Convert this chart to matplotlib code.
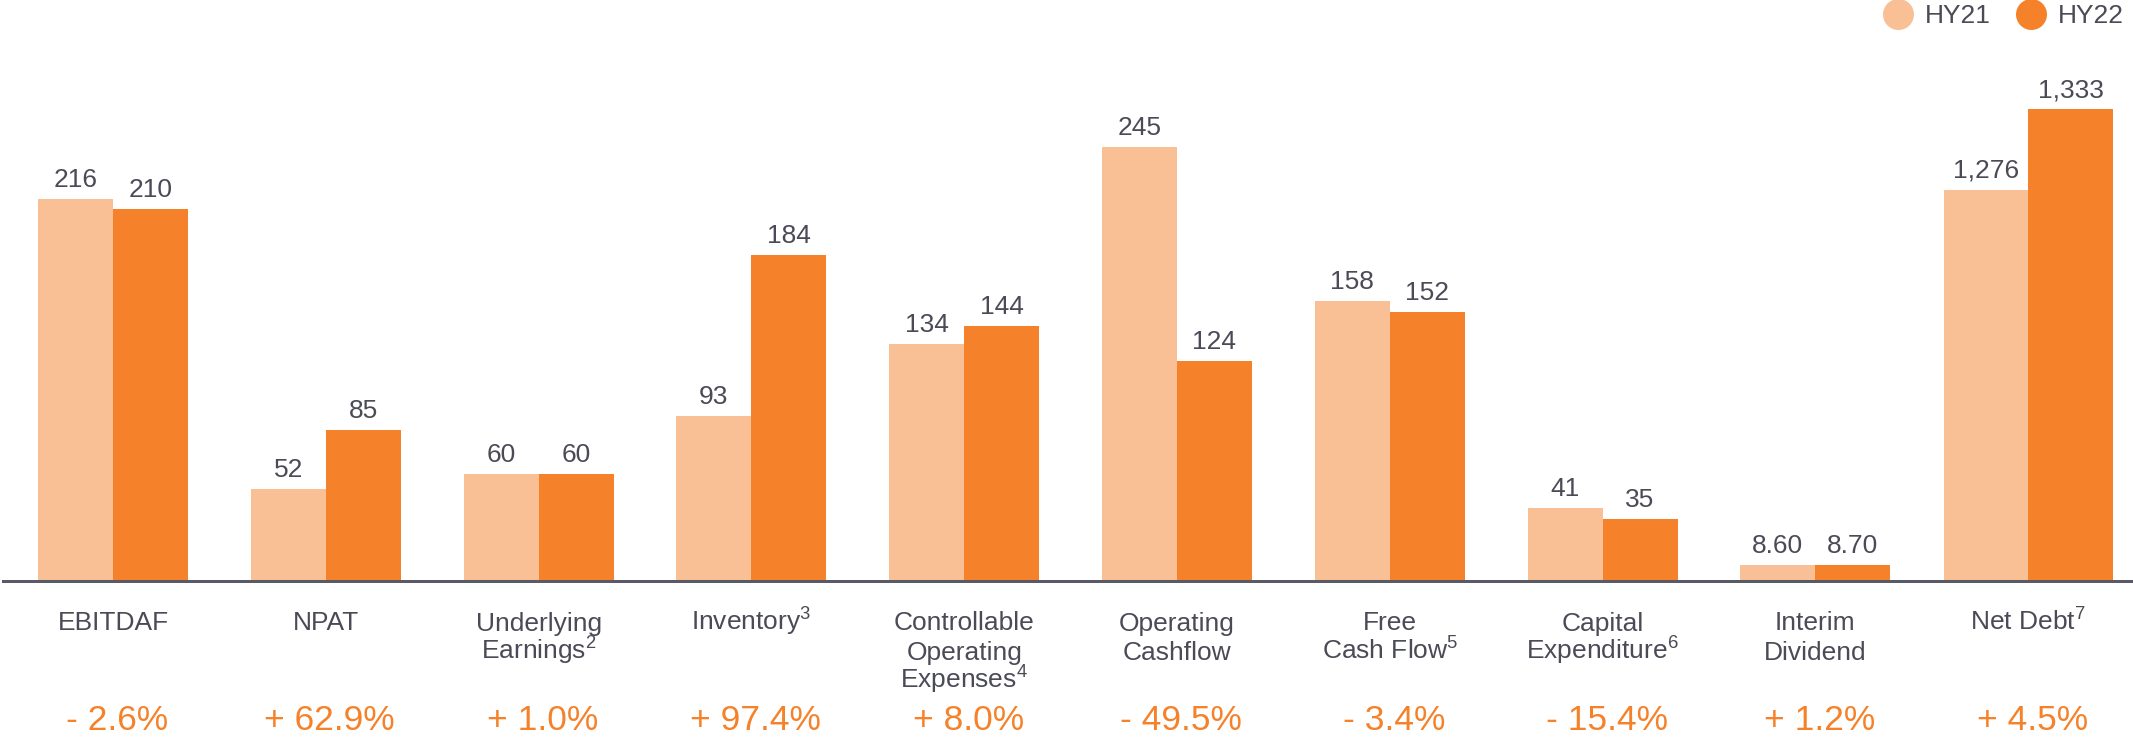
import matplotlib
matplotlib.use("Agg")
import matplotlib.pyplot as plt
from matplotlib.lines import Line2D
from matplotlib import font_manager

# ---------------- data ----------------
categories = [
    ["EBITDAF"],
    ["NPAT"],
    ["Underlying", "Earnings$^{2}$"],
    ["Inventory$^{3}$"],
    ["Controllable", "Operating", "Expenses$^{4}$"],
    ["Operating", "Cashflow"],
    ["Free", "Cash Flow$^{5}$"],
    ["Capital", "Expenditure$^{6}$"],
    ["Interim", "Dividend"],
    ["Net Debt$^{7}$"],
]
hy21_values = [216, 52, 60, 93, 134, 245, 158, 41, 8.60, 1276]
hy22_values = [210, 85, 60, 184, 144, 124, 152, 35, 8.70, 1333]
# drawn bar heights (chart units); Net Debt is drawn on a compressed scale
hy21_heights = [216, 52, 60, 93, 134, 245, 158, 41, 8.60, 221]
hy22_heights = [210, 85, 60, 184, 144, 124, 152, 35, 8.70, 266.5]
changes = ["- 2.6%", "+ 62.9%", "+ 1.0%", "+ 97.4%", "+ 8.0%",
           "- 49.5%", "- 3.4%", "- 15.4%", "+ 1.2%", "+ 4.5%"]
series_names = ["HY21", "HY22"]

# ---------------- style ----------------
LIGHT = "#F9BF95"
DARK = "#F5822A"
TEXT = "#4B4B58"
AXIS = "#5A5A66"

avail = {f.name for f in font_manager.fontManager.ttflist}
base_font = "Liberation Sans" if "Liberation Sans" in avail else "DejaVu Sans"

plt.rcParams["font.family"] = [base_font, "DejaVu Sans"]
plt.rcParams["mathtext.fontset"] = "custom"
plt.rcParams["mathtext.rm"] = base_font
plt.rcParams["mathtext.it"] = base_font
plt.rcParams["mathtext.bf"] = base_font

W, H, DPI = 2133, 738, 100
fig = plt.figure(figsize=(W / DPI, H / DPI), dpi=DPI)
ax = fig.add_axes([0, 0, 1, 1])

PX_PER_UNIT = 1.768
BASE_PX = 580.5          # baseline from top, px
X0_PX = 113.0            # first group center, px
STEP_PX = 212.8          # group spacing, px

ax.set_ylim(-(H - BASE_PX) / PX_PER_UNIT, BASE_PX / PX_PER_UNIT)
ax.set_xlim(-X0_PX / STEP_PX, (W - X0_PX) / STEP_PX)
ax.axis("off")

n = len(categories)
widths = [75 / STEP_PX] * (n - 1) + [84.5 / STEP_PX]
xs = list(range(n))

def fmt(v):
    return f"{v:.2f}" if v < 10 else f"{v:,.0f}"

pt = 72.0 / DPI  # points per pixel
FS = 19

for i in xs:
    w = widths[i]
    ax.bar(i - w / 2, hy21_heights[i], width=w, color=LIGHT, linewidth=0, zorder=2)
    ax.bar(i + w / 2, hy22_heights[i], width=w, color=DARK, linewidth=0, zorder=2)
    for xc, h, v in ((i - w / 2, hy21_heights[i], hy21_values[i]),
                     (i + w / 2, hy22_heights[i], hy22_values[i])):
        ax.annotate(fmt(v), xy=(xc, h), xytext=(0, 12 * pt), textcoords="offset points",
                    ha="center", va="baseline", fontsize=FS, color=TEXT)
    # category label lines
    for k, line in enumerate(categories[i]):
        ax.annotate(line, xy=(i, 0), xytext=(0, -(50 + 29.3 * k) * pt),
                    textcoords="offset points", ha="center", va="baseline",
                    fontsize=FS, color=TEXT)
    # change
    ax.annotate(changes[i], xy=(i, 0), xytext=(4 * pt, -150 * pt),
                textcoords="offset points", ha="center", va="baseline",
                fontsize=25.5, color=DARK)

# baseline axis line
ax.axhline(0, xmin=3 / W, xmax=1, color=AXIS, linewidth=3 * pt, zorder=3)

# legend
handles = [Line2D([], [], linestyle="none", marker="o", markersize=31 * pt,
                  markerfacecolor=c, markeredgewidth=0) for c in (LIGHT, DARK)]
fs_px = FS / pt
leg = ax.legend(handles, series_names, loc="upper right", ncol=2, frameon=False,
                bbox_to_anchor=(2124 / W, 1 - 4 / H), bbox_transform=fig.transFigure,
                borderpad=0, borderaxespad=0, handlelength=31 / fs_px,
                handletextpad=12 / fs_px, columnspacing=24 / fs_px,
                fontsize=FS, labelcolor=TEXT)

fig.savefig("out.png", dpi=DPI)
